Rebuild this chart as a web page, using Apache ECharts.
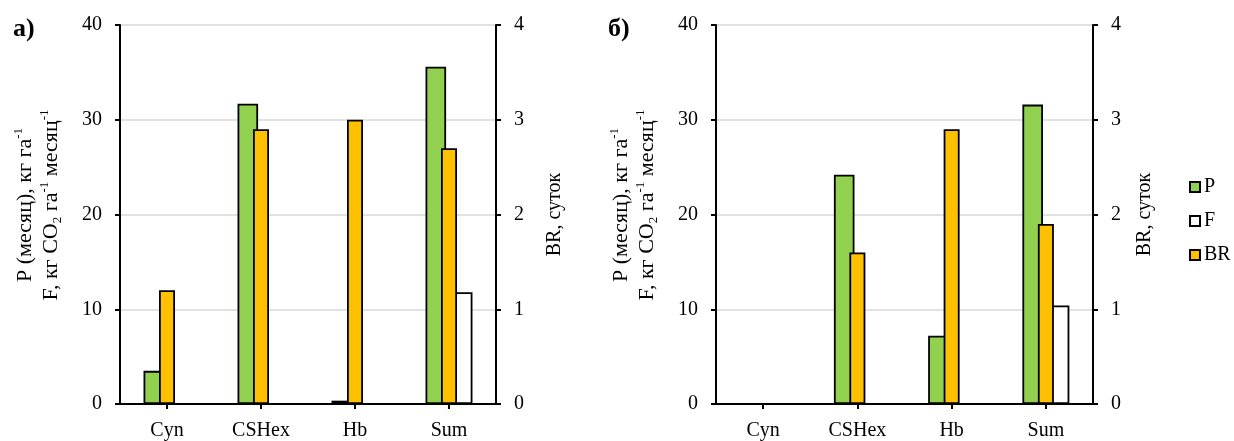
<!DOCTYPE html>
<html>
<head>
<meta charset="utf-8">
<script src="https://cdn.jsdelivr.net/npm/echarts@6/dist/echarts.min.js"></script>
<style>
html,body{margin:0;padding:0;background:#fff;}
#chart{width:1234px;height:441px;}
</style>
</head>
<body>
<div id="chart"></div>
<script>
const categories = ['Cyn', 'CSHex', 'Hb', 'Sum'];
// panel а)
const pA = [3.5, 31.7, 0.35, 35.6];
const fA = [0, 0, 0, 11.8];
const brA = [1.2, 2.9, 3.0, 2.7];
// panel б)
const pB = [0, 24.2, 7.2, 31.6];
const fB = [0, 0, 0, 10.4];
const brB = [0, 1.6, 2.9, 1.9];
const leftTicks = [0, 10, 20, 30, 40];
const rightTicks = [0, 1, 2, 3, 4];
const panelTitles = ['а)', 'б)'];
const seriesNames = ['P', 'F', 'BR'];
const leftAxisTitle = '{t|P (месяц), кг га}{sup|-1}\n{t|F, кг CO}{sub|2}{t| га}{sup|-1}{t| месяц}{sup|-1}';
const rightAxisTitle = 'BR, суток';

const FONT = 'Liberation Serif';
const chart = echarts.init(document.getElementById('chart'));

const NS = 22;
const nameRich = {
  t: {fontSize: NS, fontFamily: FONT, fill: '#000', color: '#000', lineHeight: 26},
  sup: {fontSize: 13, fontFamily: FONT, fill: '#000', color: '#000', verticalAlign: 'top', lineHeight: 13},
  sub: {fontSize: 13, fontFamily: FONT, fill: '#000', color: '#000', verticalAlign: 'bottom', lineHeight: 13}
};

function xAx(gi, show) {
  return {
    type: 'category', gridIndex: gi, data: categories, show: show,
    axisLine: {show: true, lineStyle: {color: '#000', width: 2}},
    axisTick: {show: true, alignWithLabel: true, length: 5, lineStyle: {color: '#000', width: 2}},
    axisLabel: {fontSize: 20, fontFamily: FONT, color: '#000', margin: 17},
    splitLine: {show: false}
  };
}
function yLeft(gi) {
  return {
    type: 'value', gridIndex: gi, position: 'left', min: 0, max: 40, interval: 10,
    axisLine: {show: true, lineStyle: {color: '#000', width: 2}},
    axisTick: {show: true, length: 5, lineStyle: {color: '#000', width: 2}},
    axisLabel: {fontSize: 20, fontFamily: FONT, color: '#000', margin: 18,
      formatter: v => leftTicks.includes(v) ? String(v) : ''},
    splitLine: {show: true, lineStyle: {color: '#d9d9d9', width: 1.5}}
  };
}
function yRight(gi, gap) {
  return {
    type: 'value', gridIndex: gi, position: 'right', min: 0, max: 4, interval: 1,
    axisLine: {show: true, lineStyle: {color: '#000', width: 2}},
    axisTick: {show: true, length: 5, lineStyle: {color: '#000', width: 2}},
    axisLabel: {fontSize: 20, fontFamily: FONT, color: '#000', margin: 18,
      formatter: v => rightTicks.includes(v) ? String(v) : ''},
    splitLine: {show: false},
    name: rightAxisTitle, nameLocation: 'middle', nameRotate: 90, nameGap: gap,
    nameTextStyle: {fontFamily: FONT, fontSize: 20, color: '#000'}
  };
}
const bs = (c) => ({color: c, borderColor: '#000', borderWidth: 1.8});

function panelSeries(gi, p, f, br) {
  const xa = gi * 2, ya = gi * 2;
  return [
    {name: seriesNames[0], type: 'bar', xAxisIndex: xa, yAxisIndex: ya, data: p, barWidth: 20.6, barGap: '28%', itemStyle: bs('#92D050')},
    {name: seriesNames[1], type: 'bar', xAxisIndex: xa, yAxisIndex: ya, data: f, barWidth: 20.6, barGap: '28%', itemStyle: bs('#FFFFFF')},
    {name: seriesNames[2], type: 'bar', xAxisIndex: xa + 1, yAxisIndex: ya + 1, data: br, barWidth: 16, itemStyle: bs('#FFC000')}
  ];
}

function nameGraphic(cx, cy) {
  return {
    type: 'text', x: cx, y: cy, rotation: Math.PI / 2, silent: true,
    style: {text: leftAxisTitle, rich: nameRich, fontFamily: FONT, fontSize: NS, fill: '#000',
      align: 'center', verticalAlign: 'middle', textAlign: 'center', textVerticalAlign: 'middle'}
  };
}

chart.setOption({
  animation: false,
  backgroundColor: '#fff',
  title: [
    {text: panelTitles[0], left: 8, top: 11, textStyle: {fontFamily: FONT, fontSize: 26, fontWeight: 'bold', color: '#000'}},
    {text: panelTitles[1], left: 603, top: 11, textStyle: {fontFamily: FONT, fontSize: 26, fontWeight: 'bold', color: '#000'}}
  ],
  legend: {
    data: seriesNames, orient: 'vertical', left: 1184, top: 172,
    itemWidth: 10, itemHeight: 10, itemGap: 14, icon: 'rect',
    itemStyle: {borderWidth: 2, borderColor: '#000'},
    textStyle: {fontFamily: FONT, fontSize: 20, color: '#000', padding: [0, 0, 0, -1]}
  },
  graphic: [nameGraphic(38, 205), nameGraphic(634, 205)],
  grid: [
    {left: 120, right: 738, top: 25, bottom: 35},
    {left: 716, right: 141, top: 25, bottom: 35}
  ],
  xAxis: [xAx(0, true), xAx(0, false), xAx(1, true), xAx(1, false)],
  yAxis: [yLeft(0), yRight(0, 49), yLeft(1), yRight(1, 42)],
  series: [].concat(panelSeries(0, pA, fA, brA), panelSeries(1, pB, fB, brB))
});
</script>
</body>
</html>
